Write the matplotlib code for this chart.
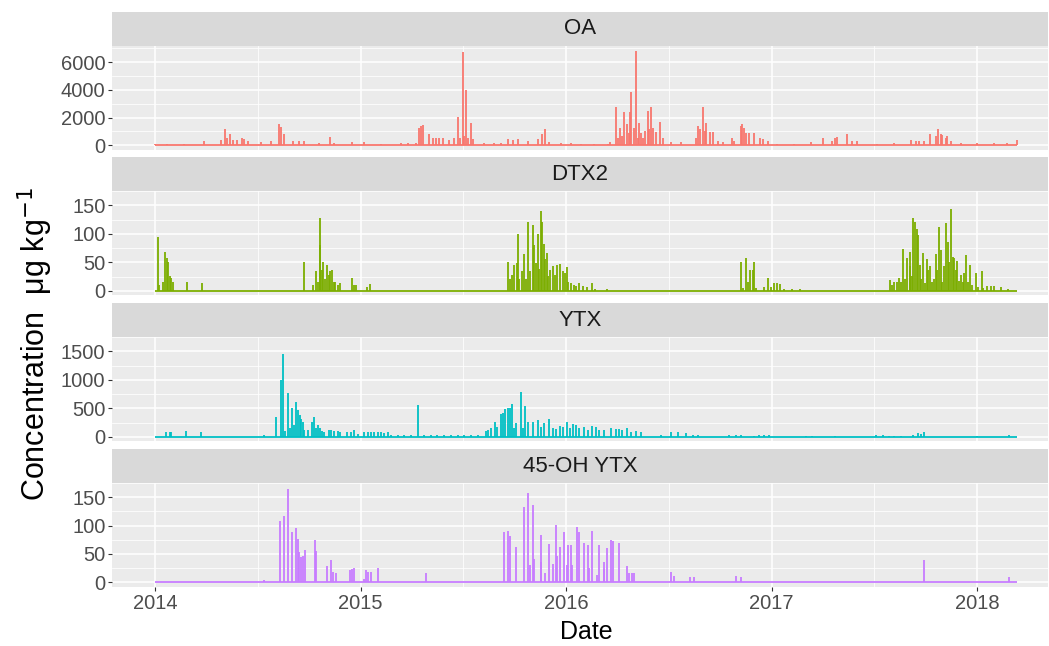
import numpy as np
import matplotlib.pyplot as plt

plt.rcParams['font.family'] = ['Liberation Sans', 'DejaVu Sans']

# sampling period (decimal years)
t_start = 2014.0
t_end = 2018.193

# ---- OA (ug/kg) ----
oa_t = [2014.00, 2014.06, 2014.14, 2014.24, 2014.321, 2014.340, 2014.350, 2014.366, 2014.378, 2014.399,
        2014.422, 2014.431, 2014.451, 2014.516, 2014.564, 2014.601, 2014.610, 2014.626, 2014.670, 2014.702,
        2014.726, 2014.799, 2014.853, 2014.872, 2014.957, 2015.018, 2015.099, 2015.197, 2015.229, 2015.269,
        2015.282, 2015.294, 2015.303, 2015.334, 2015.350, 2015.367, 2015.383, 2015.402, 2015.432, 2015.456,
        2015.475, 2015.485, 2015.496, 2015.505, 2015.514, 2015.524, 2015.537, 2015.545, 2015.602, 2015.650,
        2015.683, 2015.715, 2015.740, 2015.764, 2015.813, 2015.861, 2015.881, 2015.899, 2015.918, 2015.975,
        2016.023, 2016.072, 2016.137, 2016.202, 2016.215, 2016.242, 2016.254, 2016.263, 2016.274, 2016.283,
        2016.294, 2016.304, 2016.310, 2016.318, 2016.328, 2016.339, 2016.348, 2016.354, 2016.364, 2016.374,
        2016.383, 2016.396, 2016.404, 2016.414, 2016.424, 2016.437, 2016.455, 2016.469, 2016.510, 2016.559,
        2016.632, 2016.643, 2016.653, 2016.664, 2016.675, 2016.683, 2016.698, 2016.717, 2016.737, 2016.761,
        2016.805, 2016.818, 2016.850, 2016.858, 2016.866, 2016.876, 2016.891, 2016.912, 2016.943, 2016.956,
        2016.980, 2017.028, 2017.109, 2017.190, 2017.252, 2017.296, 2017.307, 2017.317, 2017.365, 2017.393,
        2017.417, 2017.514, 2017.596, 2017.677, 2017.701, 2017.717, 2017.742, 2017.771, 2017.799, 2017.812,
        2017.823, 2017.831, 2017.847, 2017.855, 2017.872, 2017.920, 2018.001, 2018.082, 2018.147, 2018.193]
oa_v = [100, 80, 60, 290, 370, 1200, 540, 780, 370, 370,
        540, 420, 300, 220, 300, 1510, 1320, 780, 340, 340,
        340, 170, 585, 170, 220, 220, 60, 170, 170, 170,
        1270, 1390, 1460, 780, 490, 540, 540, 490, 370, 540,
        2050, 490, 6760, 660, 4000, 540, 1630, 420, 170, 170,
        170, 420, 370, 470, 300, 420, 780, 1150, 240, 170,
        170, 120, 100, 120, 240, 2800, 540, 1220, 660, 2370,
        1510, 900, 2370, 3830, 1270, 6830, 540, 1630, 900, 540,
        1020, 2440, 1150, 2800, 1270, 980, 1680, 540, 240, 240,
        540, 1390, 1150, 2800, 1020, 1630, 980, 950, 340, 240,
        540, 300, 1390, 1560, 1270, 900, 900, 900, 540, 470,
        300, 120, 100, 240, 490, 340, 540, 590, 850, 300,
        300, 120, 150, 370, 300, 300, 300, 780, 660, 1200,
        780, 710, 540, 660, 300, 170, 170, 170, 170, 415]

# ---- DTX2 ----
dtx_t = [2014.013, 2014.021, 2014.037, 2014.049, 2014.057, 2014.062, 2014.070, 2014.078, 2014.086, 2014.154,
         2014.229, 2014.726, 2014.767, 2014.783, 2014.791, 2014.801, 2014.804, 2014.810, 2014.817, 2014.827,
         2014.836, 2014.846, 2014.852, 2014.862, 2014.869, 2014.877, 2014.888, 2014.898, 2014.957, 2014.970,
         2014.979, 2015.029, 2015.044, 2015.715, 2015.728, 2015.739, 2015.747, 2015.759, 2015.764, 2015.773,
         2015.783, 2015.796, 2015.806, 2015.816, 2015.825, 2015.838, 2015.845, 2015.853, 2015.864, 2015.870,
         2015.877, 2015.883, 2015.890, 2015.896, 2015.906, 2015.913, 2015.923, 2015.935, 2015.945, 2015.955,
         2015.968, 2015.983, 2015.994, 2016.004, 2016.010, 2016.023, 2016.036, 2016.048, 2016.064, 2016.080,
         2016.101, 2016.124, 2016.142, 2016.198, 2016.850, 2016.863, 2016.876, 2016.886, 2016.895, 2016.907,
         2016.916, 2016.923, 2016.964, 2016.983, 2016.996, 2017.012, 2017.025, 2017.041, 2017.061, 2017.101,
         2017.139, 2017.577, 2017.588, 2017.596, 2017.609, 2017.619, 2017.629, 2017.638, 2017.650, 2017.661,
         2017.671, 2017.674, 2017.682, 2017.690, 2017.698, 2017.706, 2017.714, 2017.722, 2017.729, 2017.738,
         2017.746, 2017.754, 2017.762, 2017.771, 2017.782, 2017.790, 2017.799, 2017.807, 2017.815, 2017.823,
         2017.831, 2017.839, 2017.850, 2017.859, 2017.865, 2017.875, 2017.881, 2017.888, 2017.896, 2017.904,
         2017.913, 2017.920, 2017.929, 2017.936, 2017.947, 2017.956, 2017.965, 2017.977, 2017.993, 2018.004,
         2018.022, 2018.031, 2018.050, 2018.066, 2018.082, 2018.118, 2018.150]
dtx_v = [94, 10, 15, 68, 58, 51, 26, 23, 15, 16,
         14, 50, 10, 35, 15, 127, 80, 36, 51, 20,
         45, 28, 35, 37, 15, 16, 11, 13, 23, 10,
         10, 6, 12, 50, 20, 28, 46, 48, 100, 20,
         35, 64, 20, 121, 35, 116, 80, 49, 100, 39,
         140, 121, 82, 56, 67, 26, 36, 44, 28, 46,
         47, 35, 31, 42, 15, 13, 10, 8, 14, 9,
         6, 13, 4, 4, 51, 5, 58, 15, 37, 36,
         50, 5, 6, 23, 6, 14, 13, 12, 4, 4,
         3, 19, 10, 16, 15, 23, 15, 73, 20, 57,
         44, 69, 26, 128, 121, 108, 98, 46, 20, 67,
         13, 56, 36, 44, 15, 20, 64, 36, 112, 72,
         15, 44, 119, 85, 51, 144, 59, 58, 36, 52,
         18, 28, 15, 32, 63, 15, 46, 10, 32, 6,
         35, 5, 8, 9, 8, 6, 4]

# ---- YTX ----
ytx_t = [2014.053, 2014.070, 2014.078, 2014.151, 2014.224, 2014.532, 2014.586, 2014.610, 2014.624, 2014.634,
         2014.647, 2014.658, 2014.666, 2014.674, 2014.684, 2014.694, 2014.703, 2014.710, 2014.718, 2014.726,
         2014.742, 2014.762, 2014.775, 2014.785, 2014.794, 2014.804, 2014.814, 2014.823, 2014.846, 2014.856,
         2014.872, 2014.888, 2014.898, 2014.936, 2014.953, 2014.969, 2014.985, 2015.018, 2015.034, 2015.050,
         2015.066, 2015.083, 2015.099, 2015.115, 2015.131, 2015.148, 2015.180, 2015.212, 2015.245, 2015.277,
         2015.309, 2015.342, 2015.374, 2015.407, 2015.439, 2015.472, 2015.504, 2015.537, 2015.569, 2015.610,
         2015.621, 2015.634, 2015.653, 2015.663, 2015.683, 2015.692, 2015.702, 2015.715, 2015.725, 2015.736,
         2015.747, 2015.757, 2015.780, 2015.789, 2015.799, 2015.816, 2015.838, 2015.861, 2015.877, 2015.893,
         2015.916, 2015.935, 2015.951, 2015.971, 2015.983, 2016.004, 2016.020, 2016.032, 2016.048, 2016.064,
         2016.085, 2016.104, 2016.124, 2016.143, 2016.161, 2016.185, 2016.218, 2016.242, 2016.258, 2016.274,
         2016.296, 2016.315, 2016.339, 2016.364, 2016.461, 2016.510, 2016.543, 2016.583, 2016.616, 2016.640,
         2016.793, 2016.826, 2016.850, 2016.912, 2016.939, 2016.964, 2016.988, 2017.166, 2017.198, 2017.307,
         2017.507, 2017.544, 2017.572, 2017.596, 2017.628, 2017.690, 2017.710, 2017.726, 2017.742, 2018.001,
         2018.155]
ytx_v = [87, 77, 93, 103, 77, 26, 344, 1002, 1450, 100,
         771, 154, 504, 206, 607, 463, 380, 308, 257, 113,
         128, 267, 344, 154, 216, 154, 103, 93, 128, 128,
         103, 103, 77, 77, 77, 113, 51, 77, 77, 87,
         77, 77, 80, 70, 77, 25, 25, 25, 25, 565,
         25, 25, 25, 25, 25, 25, 25, 25, 25, 103,
         128, 154, 257, 180, 400, 410, 483, 504, 504, 575,
         154, 247, 781, 154, 540, 267, 257, 298, 180, 247,
         308, 164, 144, 195, 180, 267, 154, 226, 206, 154,
         180, 128, 195, 180, 128, 128, 154, 144, 139, 128,
         164, 93, 103, 93, 26, 87, 77, 67, 41, 41,
         41, 36, 26, 20, 26, 26, 26, 15, 10, 10,
         26, 26, 20, 20, 10, 36, 67, 51, 77, 20,
         26]

# ---- 45-OH YTX ----
oh_t = [2014.530, 2014.608, 2014.626, 2014.647, 2014.666, 2014.686, 2014.694, 2014.702, 2014.710, 2014.718,
        2014.728, 2014.778, 2014.785, 2014.836, 2014.856, 2014.864, 2014.880, 2014.950, 2014.957, 2014.969,
        2015.018, 2015.026, 2015.034, 2015.050, 2015.083, 2015.318, 2015.700, 2015.715, 2015.728, 2015.757,
        2015.796, 2015.816, 2015.822, 2015.837, 2015.845, 2015.877, 2015.880, 2015.898, 2015.917, 2015.937,
        2015.950, 2015.958, 2015.971, 2015.988, 2016.004, 2016.010, 2016.023, 2016.031, 2016.053, 2016.064,
        2016.085, 2016.104, 2016.111, 2016.124, 2016.150, 2016.161, 2016.182, 2016.185, 2016.198, 2016.218,
        2016.229, 2016.258, 2016.296, 2016.307, 2016.320, 2016.331, 2016.510, 2016.523, 2016.604, 2016.623,
        2016.826, 2016.850, 2017.742, 2018.155]
oh_v = [4, 108, 116, 165, 88, 95, 76, 53, 44, 47,
        57, 75, 56, 28, 39, 18, 16, 22, 24, 25,
        6, 21, 19, 19, 26, 16, 89, 91, 81, 62,
        132, 158, 30, 137, 41, 35, 83, 16, 68, 32,
        101, 47, 62, 88, 31, 65, 66, 31, 97, 89,
        69, 66, 26, 91, 13, 65, 24, 35, 60, 75,
        73, 69, 29, 16, 16, 16, 19, 12, 9, 9,
        11, 9, 40, 9]

names = ['OA', 'DTX2', 'YTX', '45-OH YTX']
times = [oa_t, dtx_t, ytx_t, oh_t]
values = [oa_v, dtx_v, ytx_v, oh_v]
colors = ['#F8766D', '#7CAE00', '#00BFC4', '#C77CFF']
yticks = [[0, 2000, 4000, 6000], [0, 50, 100, 150], [0, 500, 1000, 1500], [0, 50, 100, 150]]
years = [2014, 2015, 2016, 2017, 2018]

W, H = 1049, 646
fig = plt.figure(figsize=(W / 100, H / 100), dpi=100)

left, right = 112, 1048
tops = [12, 157, 303, 449]
strip_h, panel_h = 34, 104

for i in range(4):
    top = tops[i]
    # facet strip
    sax = fig.add_axes([left / W, 1 - (top + strip_h) / H, (right - left) / W, strip_h / H])
    sax.set_facecolor('#D9D9D9')
    sax.set_xticks([])
    sax.set_yticks([])
    for s in sax.spines.values():
        s.set_visible(False)
    sax.text(0.5, 0.5, names[i], ha='center', va='center', fontsize=16, color='#1A1A1A',
             transform=sax.transAxes)

    ax = fig.add_axes([left / W, 1 - (top + strip_h + panel_h) / H, (right - left) / W, panel_h / H])
    ax.set_facecolor('#EBEBEB')
    for s in ax.spines.values():
        s.set_visible(False)

    t = np.array(times[i])
    v = np.array(values[i])
    ax.plot([t_start, t_end], [0, 0], color=colors[i], lw=1.3, solid_capstyle='butt')
    ax.vlines(t, 0, v, color=colors[i], lw=1.3)

    vmax = v.max()
    ax.set_ylim(-0.05 * vmax, vmax * 1.05)
    ax.set_xlim(2013.79, 2018.345)

    yt = yticks[i]
    step = yt[1] - yt[0]
    ax.set_yticks(yt)
    ax.set_yticklabels([str(y) for y in yt])
    ax.set_yticks([y + step / 2 for y in yt], minor=True)
    ax.set_xticks(years)
    ax.set_xticks([y + 0.5 for y in years[:-1]], minor=True)

    ax.grid(which='major', color='white', lw=1.1)
    ax.grid(which='minor', color='white', lw=0.55)
    ax.set_axisbelow(True)

    ax.tick_params(which='major', length=2.75, width=0.8, color='#333333', labelsize=14.5,
                   labelcolor='#4D4D4D', pad=2)
    ax.tick_params(which='minor', length=0)
    if i < 3:
        ax.tick_params(axis='x', which='major', labelbottom=False, length=0)
    else:
        ax.set_xticklabels([str(y) for y in years])

fig.text(586 / W, 1 - 632 / H, 'Date', ha='center', va='center', fontsize=18, color='black')
fig.text(35 / W, 1 - 344 / H, r'Concentration  μg kg$^{-1}$', ha='center', va='center',
         rotation=90, fontsize=22, color='black')

fig.savefig('out.png', dpi=100)
